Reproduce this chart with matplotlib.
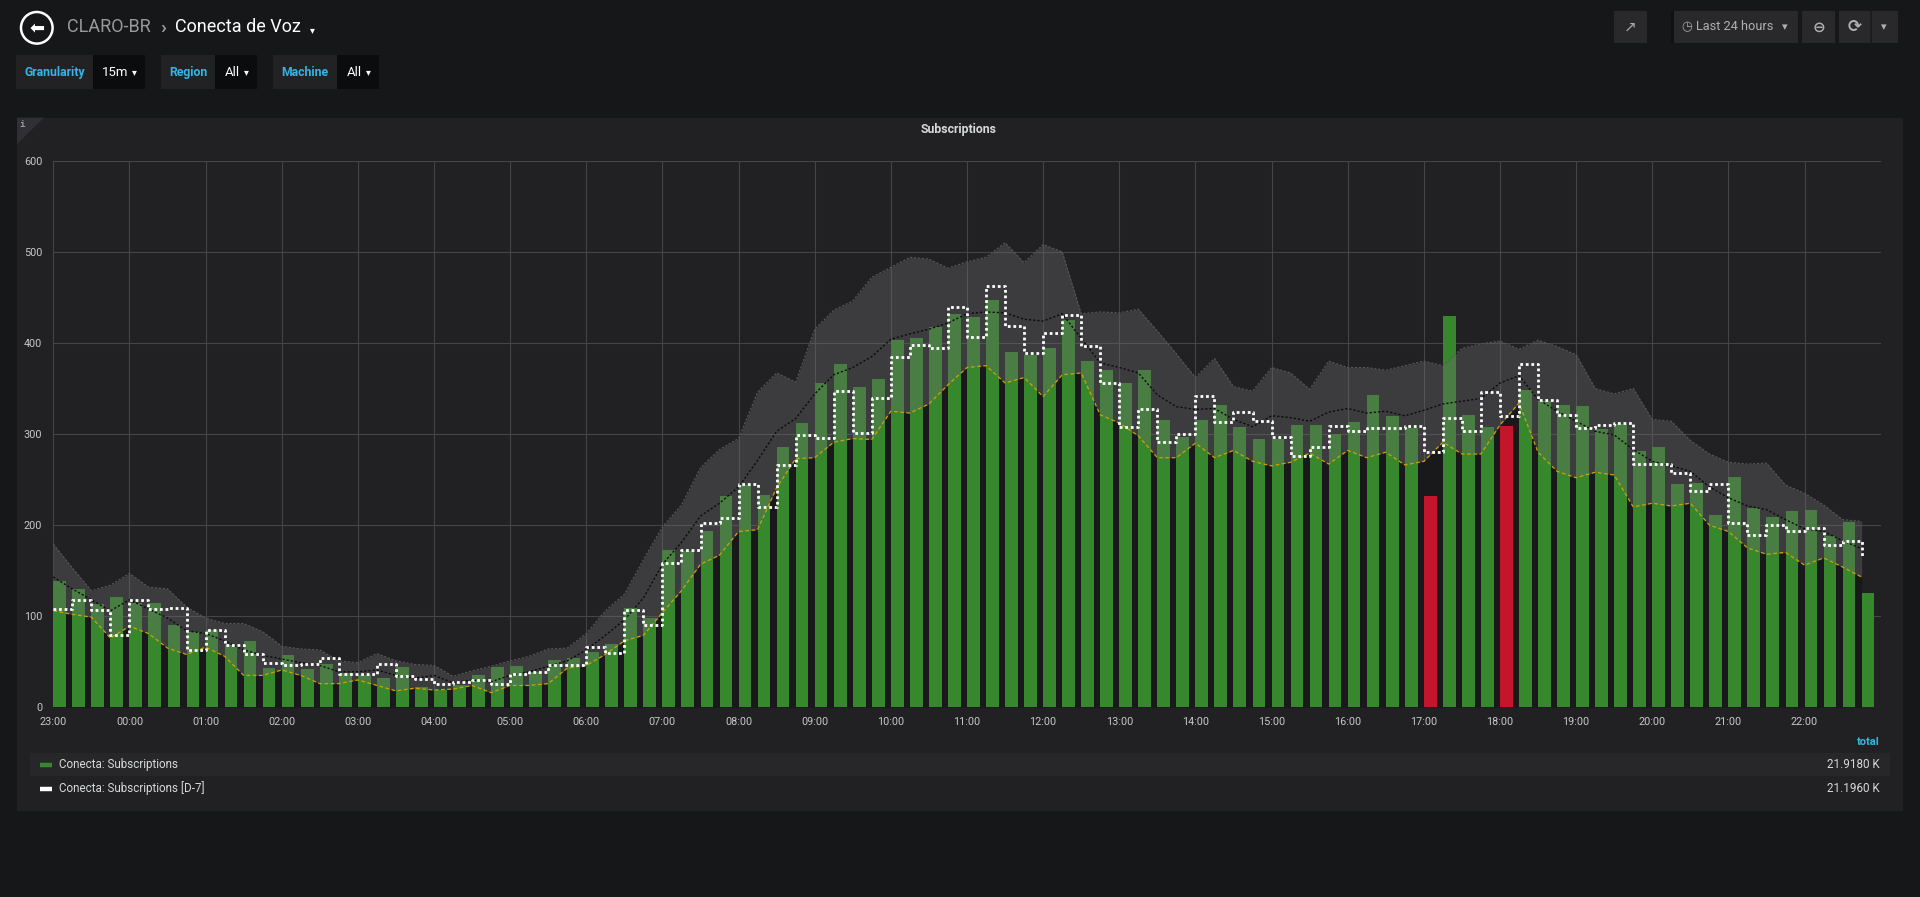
import numpy as np
import matplotlib
matplotlib.use("Agg")
import matplotlib.pyplot as plt
from matplotlib.patches import Rectangle, Circle, Polygon

# ---- data (15 minute slots, 23:00 -> 22:45) ----
hour_labels = ['23:00', '00:00', '01:00', '02:00', '03:00', '04:00', '05:00', '06:00',
               '07:00', '08:00', '09:00', '10:00', '11:00', '12:00', '13:00', '14:00',
               '15:00', '16:00', '17:00', '18:00', '19:00', '20:00', '21:00', '22:00']

subs = [139, 130, 113, 121, 115, 115, 90, 83, 85, 68, 73, 43, 57, 42, 48, 38, 35, 32, 44, 22,
        19, 24, 35, 44, 45, 39, 52, 54, 61, 70, 109, 98, 173, 172, 194, 232, 244, 233, 286, 312,
        356, 377, 352, 360, 403, 405, 418, 432, 428, 447, 390, 387, 394, 425, 380, 370, 356, 370, 315, 297,
        315, 332, 308, 295, 295, 310, 310, 300, 313, 343, 320, 307, 232, 430, 321, 308, 309, 348, 336, 332,
        331, 306, 311, 281, 286, 245, 246, 211, 253, 219, 209, 215, 217, 188, 203, 126]

subs_d7 = [108, 118, 107, 79, 118, 108, 109, 63, 85, 68, 59, 49, 46, 48, 54, 37, 37, 47, 34, 31,
           26, 28, 30, 26, 37, 39, 46, 46, 66, 60, 107, 90, 158, 173, 202, 208, 245, 220, 266, 299,
           296, 347, 301, 340, 385, 398, 394, 439, 406, 462, 419, 389, 411, 431, 397, 356, 308, 327, 291, 300,
           342, 313, 324, 314, 297, 276, 286, 309, 303, 307, 307, 309, 280, 318, 303, 346, 320, 377, 337, 321,
           307, 310, 312, 267, 267, 257, 237, 245, 202, 189, 200, 193, 197, 178, 183, 166]

band_lower = [106, 102, 99, 76, 89, 81, 65, 58, 66, 56, 35, 35, 41, 35, 26, 26, 30, 24, 18, 21,
              19, 20, 24, 16, 24, 24, 26, 43, 46, 58, 73, 79, 104, 128, 157, 167, 193, 195, 241, 273,
              274, 291, 295, 294, 325, 323, 333, 354, 373, 375, 356, 362, 341, 365, 367, 321, 312, 298, 274, 274,
              290, 274, 282, 270, 265, 269, 279, 267, 282, 274, 280, 266, 270, 291, 278, 278, 310, 334, 280, 259,
              252, 258, 255, 220, 224, 221, 224, 200, 193, 175, 168, 170, 156, 164, 154, 143]

band_upper = [179, 153, 128, 134, 147, 132, 130, 110, 98, 92, 92, 83, 67, 64, 63, 51, 49, 59, 51, 47,
              46, 34, 40, 45, 51, 56, 64, 65, 81, 106, 124, 162, 198, 222, 263, 283, 295, 346, 367, 357,
              415, 436, 446, 472, 483, 494, 492, 482, 489, 494, 510, 488, 508, 500, 432, 434, 433, 437, 413, 388,
              362, 383, 352, 347, 373, 367, 349, 380, 373, 373, 370, 375, 380, 375, 394, 399, 402, 393, 403, 396,
              387, 350, 344, 350, 316, 314, 293, 278, 269, 267, 268, 244, 235, 222, 206, 204]

band_mean = [143, 130, 118, 106, 118, 108, 98, 84, 81, 73, 63, 57, 53, 49, 46, 39, 39, 41, 35, 32,
             35, 27, 30, 28, 35, 39, 45, 51, 63, 79, 96, 120, 157, 181, 210, 224, 242, 271, 303, 317,
             344, 365, 373, 385, 404, 410, 415, 422, 432, 434, 433, 426, 424, 432, 405, 378, 373, 367, 343, 330,
             327, 328, 316, 308, 320, 318, 314, 324, 328, 323, 325, 320, 326, 333, 336, 339, 356, 364, 338, 325,
             314, 303, 299, 283, 270, 265, 259, 242, 230, 221, 217, 206, 196, 193, 183, 174]

alert_slots = ['17:00', '18:00']
legend_names = ['Conecta: Subscriptions', 'Conecta: Subscriptions [D-7]']
legend_totals = ['21.9180 K', '21.1960 K']

W, H = 1920, 897
plt.rcParams['font.family'] = ['Roboto', 'DejaVu Sans']

PAGE_BG = '#161719'
PANEL_BG = '#212124'
TEXT = '#d8d9da'
BLUE = '#33b5e5'
GREEN = '#37872d'
RED = '#c4162a'


def fx(px):
    return px / W


def fy(py):
    return 1 - py / H


def fig_rect(fig, x0, y0, x1, y1, color, z=-4):
    fig.add_artist(Rectangle((fx(x0), fy(y1)), fx(x1 - x0), (y1 - y0) / H,
                             transform=fig.transFigure, color=color, lw=0, zorder=z))


fig = plt.figure(figsize=(W / 100, H / 100), dpi=100, facecolor=PAGE_BG)

# ---- top bar ----
fig.add_artist(Circle((36.8 / 100, (H - 27.8) / 100), 0.158, transform=fig.dpi_scale_trans,
                      fill=False, ec='white', lw=1.8, zorder=2))
fig.text(fx(36.8), fy(28.5), '\u2b05', color='white', fontsize=13, ha='center', va='center',
         family='DejaVu Sans')
fig.text(fx(67), fy(27.5), 'CLARO-BR', color='#9a9a9a', fontsize=13, ha='left', va='center')
fig.text(fx(163), fy(27.5), '\u203a', color='#9a9a9a', fontsize=14, ha='center', va='center',
         fontweight='bold')
fig.text(fx(175), fy(27.5), 'Conecta de Voz', color='white', fontsize=13, ha='left', va='center')
fig.text(fx(312), fy(30), '\u25be', color='white', fontsize=7, ha='center', va='center')

# variable selectors
selectors = [('Granularity', '15m', 16, 93, 145), ('Region', 'All', 161, 215, 257),
             ('Machine', 'All', 273, 337, 379)]
for name, val, x0, x1, x2 in selectors:
    fig_rect(fig, x0, 55, x1, 89, '#222225')
    fig_rect(fig, x1, 55, x2, 89, '#0b0c0e')
    fig.text(fx((x0 + x1) / 2), fy(72.5), name, color=BLUE, fontsize=8.8, fontweight='bold',
             ha='center', va='center')
    fig.text(fx((x1 + x2) / 2 - 4), fy(72.5), val, color='white', fontsize=9.5,
             ha='center', va='center')
    fig.text(fx(x2 - 11), fy(72), '\u25be', color='white', fontsize=7,
             ha='center', va='center')

# right-hand buttons
fig_rect(fig, 1614, 11, 1647, 43, '#29292c')
fig_rect(fig, 1673, 11, 1798, 43, '#29292c')
fig_rect(fig, 1671, 11, 1674, 43, '#111113')
fig_rect(fig, 1802, 11, 1835, 43, '#29292c')
fig_rect(fig, 1839, 11, 1898, 43, '#29292c')
fig_rect(fig, 1870, 11, 1871.5, 43, '#1d1d1f')
fig.text(fx(1630.5), fy(27), '\u2197', color='#a8a8a8', fontsize=11, ha='center', va='center',
         family='DejaVu Sans')
fig.text(fx(1687), fy(27), '\u25f7', color='#a8a8a8', fontsize=9, ha='center', va='center',
         family='DejaVu Sans')
fig.text(fx(1735), fy(27), 'Last 24 hours', color='#b0b0b0', fontsize=9.2, ha='center', va='center')
fig.text(fx(1785), fy(27), '\u25be', color='#b0b0b0', fontsize=8, ha='center', va='center')
fig.text(fx(1818.5), fy(27), '\u2296', color='#b0b0b0', fontsize=11, ha='center', va='center',
         family='DejaVu Sans', fontweight='bold')
fig.text(fx(1854.5), fy(27), '\u27f3', color='#b0b0b0', fontsize=12, ha='center', va='center',
         family='DejaVu Sans', fontweight='bold')
fig.text(fx(1884), fy(27), '\u25be', color='#b0b0b0', fontsize=8, ha='center', va='center')

# ---- panel ----
fig_rect(fig, 17, 117.6, 1903, 811, PANEL_BG, z=-5)
fig.add_artist(Polygon([[fx(17), fy(117.6)], [fx(44), fy(117.6)], [fx(17), fy(144)]],
                       closed=True, transform=fig.transFigure, color='#303034', lw=0, zorder=-4))
fig.text(fx(22.5), fy(124.5), 'i', color='#9a9a9a', fontsize=6.5, ha='center', va='center',
         family='DejaVu Sans Mono', fontweight='bold')
fig.text(fx(959), fy(130), 'Subscriptions', color=TEXT, fontsize=8.8, fontweight='bold',
         ha='center', va='center')

# ---- chart ----
ax = fig.add_axes([fx(53.3), fy(707.3), fx(1880.7 - 53.3), (707.3 - 160.7) / H])
ax.set_facecolor('none')

x = np.arange(len(subs)) * 0.25
slot_names = ['%02d:%02d' % ((23 + i // 4) % 24, (i % 4) * 15) for i in range(len(subs))]
bar_colors = [RED if s in alert_slots else GREEN for s in slot_names]

ax.fill_between(x, 0, band_lower, color='#19191b', lw=0, zorder=1)
ax.bar(x, subs, width=0.25 * 0.67, align='edge', color=bar_colors, lw=0, zorder=2)
ax.fill_between(x, band_lower, band_upper, color='#6c6c6c', alpha=0.37, lw=0, zorder=3)
ax.plot(x, band_upper, color='#58585b', lw=0.8, ls=(0, (2, 1.5)), zorder=4)
ax.plot(x, band_lower, color='#cca300', lw=0.9, ls=(0, (3, 2)), zorder=4)
ax.plot(x, band_mean, color='#0a0a0a', lw=1.0, ls=(0, (1.5, 1.5)), zorder=5)
ax.step(x, subs_d7, where='post', color='white', lw=2.0, ls=(0, (1, 1)), zorder=6)

ax.set_xlim(0, 24)
ax.set_ylim(0, 600)
ax.set_xticks(range(len(hour_labels)))
ax.set_xticklabels(hour_labels)
ax.set_yticks(range(0, 601, 100))
ax.grid(True, color='#454548', lw=0.8)
ax.set_axisbelow(True)
for sp in ax.spines.values():
    sp.set_visible(False)
ax.tick_params(axis='both', length=0, colors='#c6c7c9', labelsize=7.8)
ax.tick_params(axis='x', pad=7)
ax.tick_params(axis='y', pad=8)

# ---- legend table ----
fig.text(fx(1880), fy(742), 'total', color=BLUE, fontsize=8, fontweight='bold',
         ha='right', va='center')
fig_rect(fig, 30, 753, 1890, 776, '#27272a')
legend_colors = [GREEN, 'white']
for i, (name, total) in enumerate(zip(legend_names, legend_totals)):
    yy = 764.5 + i * 24
    fig.add_artist(plt.Line2D([fx(40), fx(52)], [fy(yy), fy(yy)], transform=fig.transFigure,
                              color=legend_colors[i], lw=3.2, solid_capstyle='butt'))
    fig.text(fx(59), fy(yy), name, color=TEXT, fontsize=8.4, ha='left', va='center')
    fig.text(fx(1880), fy(yy), total, color=TEXT, fontsize=8.4, ha='right', va='center')

fig.savefig('out.png', dpi=100, facecolor=PAGE_BG)
